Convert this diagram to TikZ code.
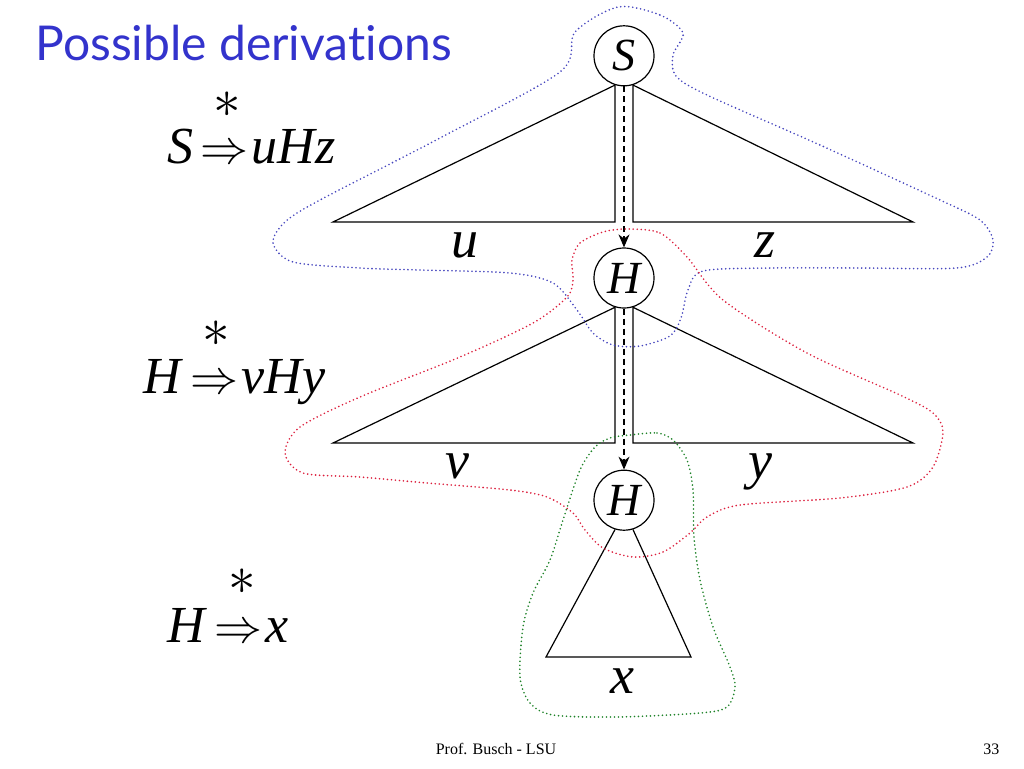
\documentclass[tikz,border=0pt]{standalone}
\usepackage{amsmath}
\usepackage{graphicx}
\usepackage{fontspec}
\setmainfont{Liberation Serif}
\newfontfamily\titlefont[Ligatures=NoCommon]{Lato}
\usepackage{tikz}
\usetikzlibrary{matrix}
\usetikzlibrary{arrows.meta}

\definecolor{titleblue}{RGB}{51,51,204}
\definecolor{blobblue}{RGB}{70,70,190}
\definecolor{blobred}{RGB}{220,30,60}
\definecolor{blobgreen}{RGB}{30,130,40}
\newcommand{\derives}{\kern7pt\resizebox{48pt}{!}{$\Rightarrow$}\kern3pt}
\newcommand{\kstar}{\scalebox{5.5}{\normalsize$\ast$}}

\begin{document}
\begin{tikzpicture}[x=1pt,y=-1pt,line width=1.2pt,
  lbl/.style={font=\fontsize{54}{54}\selectfont\itshape,anchor=base,inner sep=0pt},
  rule/.style={font=\fontsize{52}{52}\selectfont,anchor=base west,inner sep=0pt},
  kleene/.style={inner sep=0pt},
  blob/.style={line width=1.8pt,line cap=round,dash pattern=on 0pt off 4pt}]
  \useasboundingbox (0,0) rectangle (1024,768);

  \node[anchor=base west,font=\titlefont\fontsize{48}{48}\selectfont,text=titleblue,inner sep=0pt] (title) at (35,60) {Possible derivations};

  \matrix (m) [matrix of nodes,row sep=161pt,
    nodes={circle,draw,minimum size=60pt,inner sep=0pt,font=\fontsize{46}{46}\selectfont\itshape}]
    at (624,278)
  {
     S \\
     H \\
     H \\};
  \path[-{Stealth[length=13pt,width=11pt]},dashed,dash pattern=on 6pt off 4pt]
    (m-1-1) edge (m-2-1)
    (m-2-1) edge (m-3-1);

  \coordinate (uL) at (333,222);
  \coordinate (zR) at (913,222);
  \coordinate (vL) at (333,443);
  \coordinate (yR) at (913,443);
  \coordinate (xL) at (546,657);
  \coordinate (xR) at (691,657);
  \draw (m-1-1.-107) -- (uL) -- (m-1-1.-107 |- uL) -- cycle;
  \draw (m-1-1.-73) -- (zR) -- (m-1-1.-73 |- zR) -- cycle;
  \draw (m-2-1.-107) -- (vL) -- (m-2-1.-107 |- vL) -- cycle;
  \draw (m-2-1.-73) -- (yR) -- (m-2-1.-73 |- yR) -- cycle;
  \draw (m-3-1.-107) -- (xL) -- (xR) -- (m-3-1.-73);

  \node[lbl] (u) at (465,257) {u};
  \node[lbl] (z) at (765,257) {z};
  \node[lbl] (v) at (457,478) {v};
  \node[lbl] (y) at (760,478) {y};
  \node[lbl] (x) at (622,693) {x};

  \node[rule] (rule1) at (167,163) {\textit{S}\derives\textit{uHz}};
  \node[rule] (rule2) at (143,393) {\textit{H}\derives\textit{vHy}};
  \node[rule] (rule3) at (167,642) {\textit{H}\derives\textit{x}};
  \node[kleene] (ast1) at (227,105) {\kstar};
  \node[kleene] (ast2) at (216,334) {\kstar};
  \node[kleene] (ast3) at (242,582) {\kstar};

  \draw[blob,blobblue] plot[smooth cycle] coordinates {(618,7) (660,15) (683,33) (673,55) (676,76) (707,95) (820,145) (940,200) (980,220) (993,240) (987,257) (957,268) (860,268) (773,268) (703,271) (688,290) (681,318) (670,336) (640,346) (613,345) (593,333) (577,310) (553,283) (510,273) (420,270) (360,268) (293,262) (273,243) (285,222) (320,200) (440,138) (560,72) (575,32)};
  \draw[blob,blobred] plot[smooth cycle] coordinates {(627,229) (660,233) (687,257) (723,300) (807,353) (900,395) (933,413) (943,432) (933,467) (907,487) (840,498) (740,505) (707,517) (690,533) (663,552) (633,557) (603,548) (585,530) (573,513) (547,497) (510,490) (427,483) (360,477) (303,473) (285,453) (300,427) (360,397) (460,357) (533,323) (567,297) (573,280) (572,260) (580,243) (603,232)};
  \draw[blob,blobgreen] plot[smooth cycle] coordinates {(630,435) (657,433) (673,440) (687,460) (693,490) (694,537) (700,580) (713,627) (730,667) (735,687) (727,707) (700,713) (617,717) (553,715) (530,703) (520,677) (523,627) (533,593) (550,560) (563,520) (580,470) (595,447) (610,438)};

  \node[anchor=base,font=\fontsize{16}{16}\selectfont,inner sep=0pt] (foot) at (496,754) {Prof. Busch - LSU};
  \node[anchor=base east,font=\fontsize{16}{16}\selectfont,inner sep=0pt] (page) at (1000,754) {33};
\end{tikzpicture}
\end{document}
